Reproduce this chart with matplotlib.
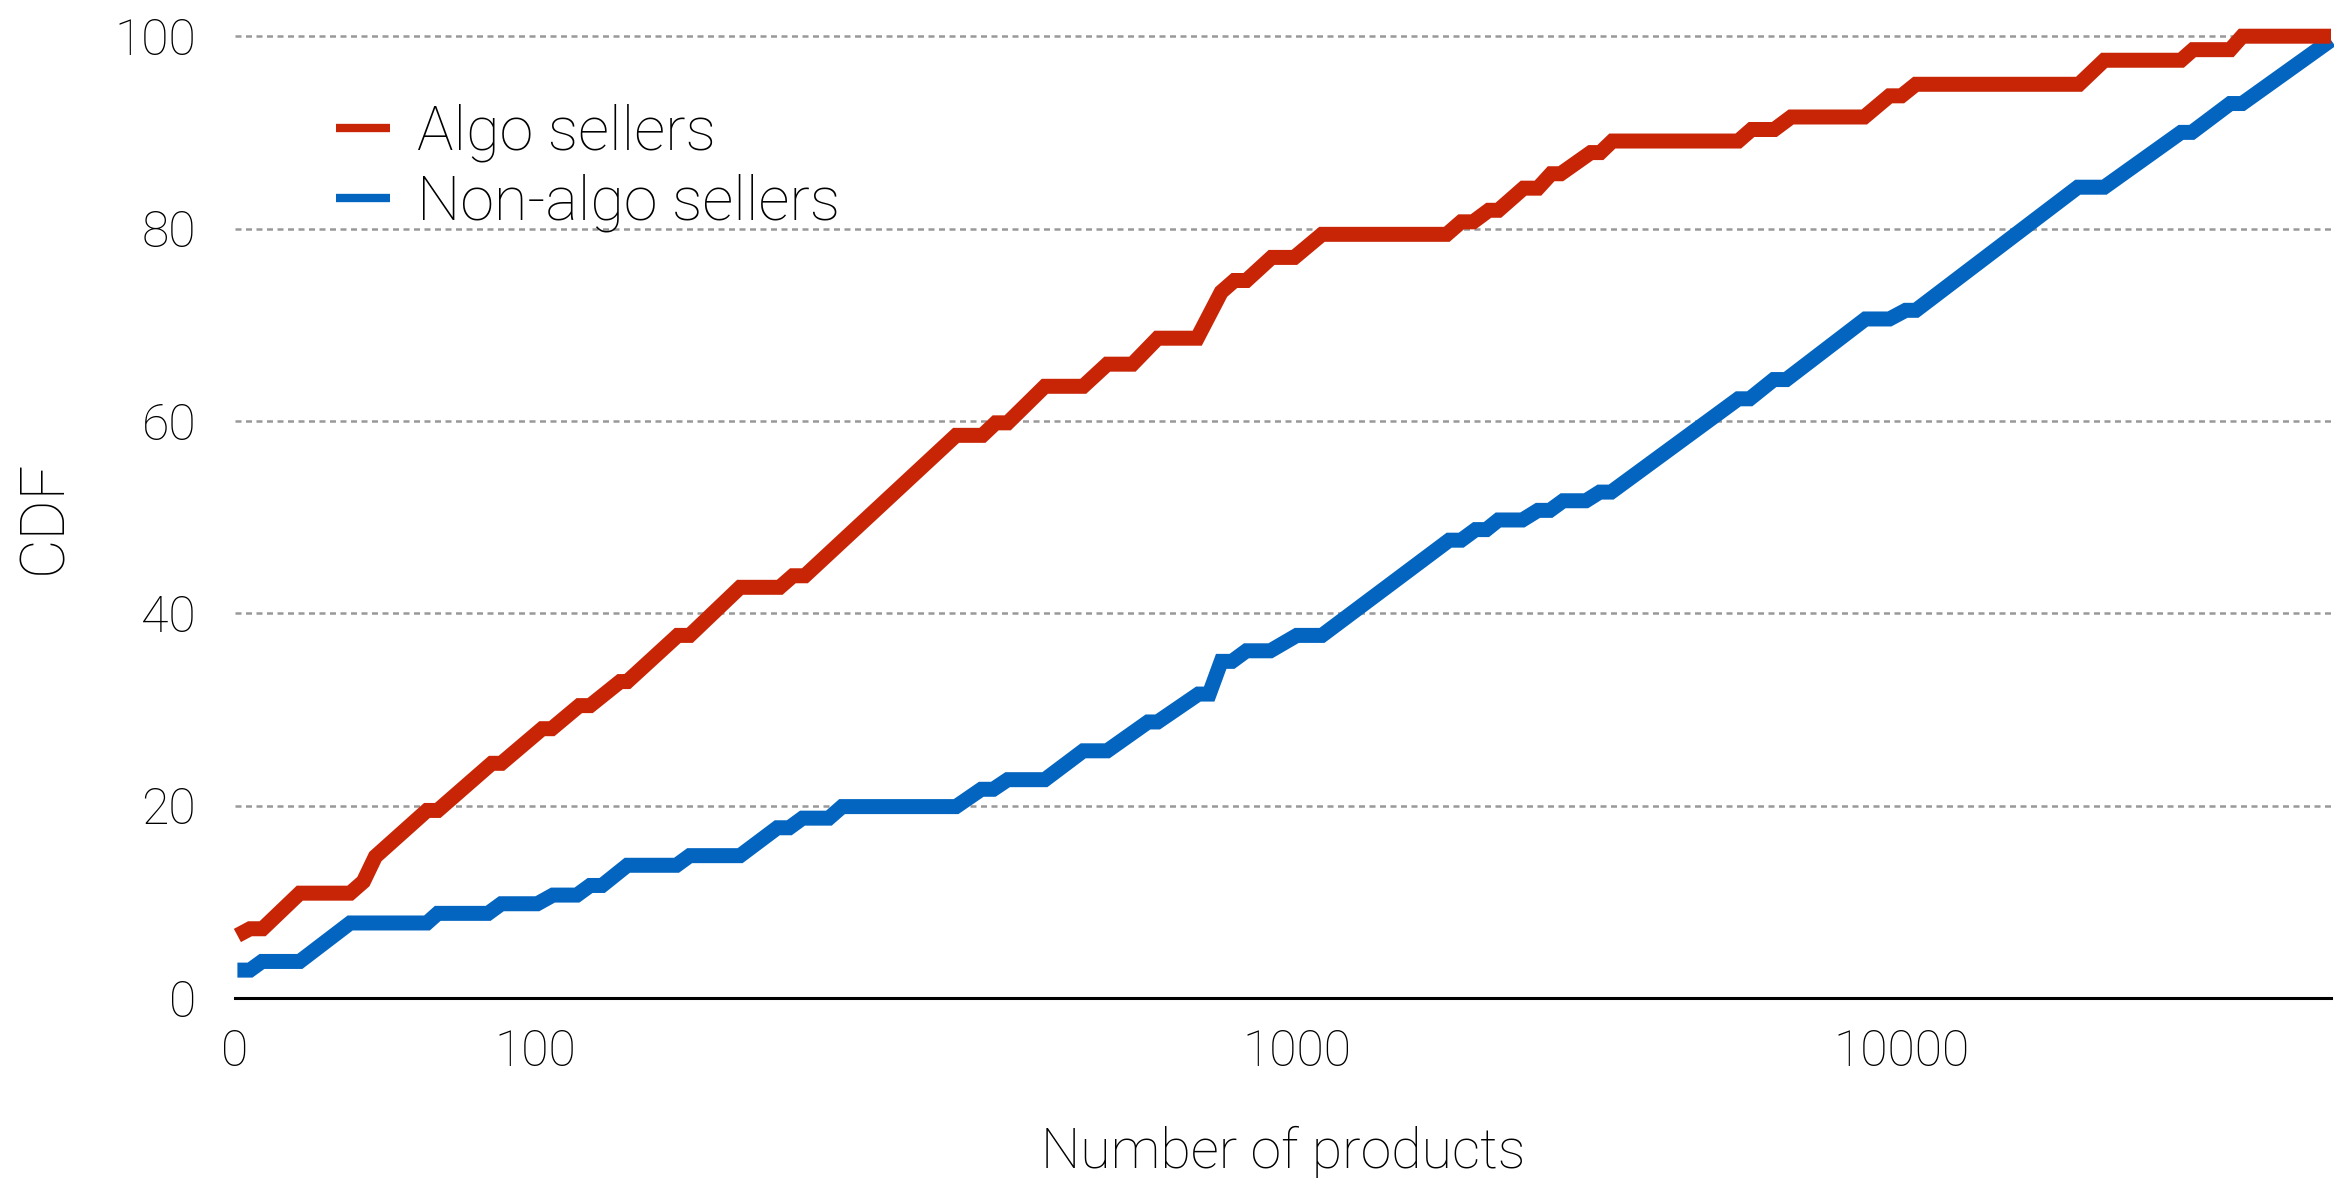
import matplotlib
matplotlib.use("Agg")
import matplotlib.pyplot as plt
from matplotlib.lines import Line2D

plt.rcParams['font.family'] = ['Roboto', 'DejaVu Sans']
plt.rcParams['font.weight'] = 'light'
plt.rcParams['axes.labelweight'] = 'light'

# x = position along the category axis (one unit ~ one category step)
algo_x = [0.2, 1.25, 2.3, 5.4, 9.6, 10.7, 11.7, 16.0, 16.9, 21.4, 22.2, 25.6, 26.4,
          28.7, 29.6, 32.1, 32.7, 36.9, 37.9, 42.1, 45.4, 46.5, 47.5, 60.1, 62.3,
          63.4, 64.4, 67.5, 70.7, 72.7, 74.8, 76.9, 80.2, 82.2, 83.3, 84.3, 86.4,
          88.3, 90.6, 101.0, 102.2, 103.2, 104.5, 105.3, 107.4, 108.6, 109.7, 110.5,
          113.0, 113.8, 114.8, 125.3, 126.4, 128.3, 129.7, 135.8, 137.9, 138.9,
          140.1, 153.7, 155.8, 162.2, 163.2, 166.3, 167.3, 174.7]
algo_cdf = [6.5, 7.2, 7.2, 10.9, 10.9, 12.1, 14.7, 19.5, 19.5, 24.4, 24.4, 28.0, 28.0,
            30.4, 30.4, 32.9, 32.9, 37.7, 37.7, 42.7, 42.7, 43.9, 43.9, 58.5, 58.5,
            59.8, 59.8, 63.6, 63.6, 65.9, 65.9, 68.6, 68.6, 73.4, 74.6, 74.6, 77.0,
            77.0, 79.4, 79.4, 80.7, 80.7, 81.9, 81.9, 84.2, 84.2, 85.7, 85.7,
            87.9, 87.9, 89.1, 89.1, 90.3, 90.3, 91.6, 91.6, 93.8, 93.8,
            95.0, 95.0, 97.5, 97.5, 98.6, 98.6, 100.0, 100.0]

nonalgo_x = [0.2, 1.25, 2.25, 5.4, 9.6, 16.0, 16.9, 21.1, 22.2, 25.2, 26.5, 28.5,
             29.6, 30.6, 32.7, 36.8, 37.9, 42.1, 45.2, 46.2, 47.3, 49.5, 50.6, 60.1,
             62.2, 63.2, 64.4, 67.5, 70.7, 72.7, 76.1, 76.9, 80.3, 81.2, 82.2, 83.1,
             84.3, 86.3, 88.5, 90.6, 101.2, 102.2, 103.4, 104.3, 105.3, 107.3, 108.6,
             109.6, 110.7, 112.6, 113.75, 114.7, 125.3, 126.25, 128.25, 129.3, 135.9,
             137.9, 139.25, 140.1, 153.6, 155.8, 162.2, 163.1, 166.3, 167.3, 174.7]
nonalgo_cdf = [2.9, 2.9, 3.8, 3.8, 7.8, 7.8, 8.8, 8.8, 9.8, 9.8, 10.7, 10.7,
               11.7, 11.7, 13.8, 13.8, 14.8, 14.8, 17.7, 17.7, 18.7, 18.7, 19.9, 19.9,
               21.7, 21.7, 22.7, 22.7, 25.7, 25.7, 28.7, 28.7, 31.6, 31.6, 35.0, 35.0,
               36.1, 36.1, 37.7, 37.7, 47.6, 47.6, 48.7, 48.7, 49.7, 49.7, 50.7,
               50.7, 51.7, 51.7, 52.6, 52.6, 62.3, 62.3, 64.3, 64.3, 70.6,
               70.6, 71.5, 71.5, 84.3, 84.3, 90.0, 90.0, 93.0, 93.0, 99.6]

xtick_pos = [0, 25.0, 88.5, 138.9]
xtick_labels = ['0', '100', '1000', '10000']
yticks = [0, 20, 40, 60, 80, 100]

RED = '#C82506'
BLUE = '#0365C0'

fig = plt.figure(figsize=(23.34, 11.78), dpi=100)
ax = fig.add_axes([235 / 2334, 1 - 998 / 1178, 2096 / 2334, (998 - 36.2) / 1178])

line_kw = dict(linewidth=10.8, solid_joinstyle='miter', solid_capstyle='butt',
               clip_on=False, zorder=3)
ax.plot(nonalgo_x, nonalgo_cdf, color=BLUE, **line_kw)
ax.plot(algo_x, algo_cdf, color=RED, **line_kw)

ax.set_xlim(0, 174.7)
ax.set_ylim(0, 100)

# dotted horizontal grid
for y in yticks[1:]:
    ax.axhline(y, color='#999999', linewidth=1.8, dashes=(2.4, 1.8), zorder=1,
               clip_on=False)

for s in ['top', 'right', 'left']:
    ax.spines[s].set_visible(False)
ax.spines['bottom'].set_linewidth(2.2)
ax.spines['bottom'].set_color('black')

ax.set_yticks(yticks)
ax.set_yticklabels([str(v) for v in yticks])
ax.set_xticks(xtick_pos)
ax.set_xticklabels(xtick_labels)
ax.tick_params(axis='y', length=0, pad=28, labelsize=36)
ax.tick_params(axis='x', length=0, pad=22, labelsize=36)

ax.set_xlabel('Number of products', fontsize=40, labelpad=36)
ax.set_ylabel('CDF', fontsize=44)
ax.yaxis.set_label_coords(-0.077, 0.5)

handles = [Line2D([], [], color=RED, linewidth=6, solid_capstyle='butt'),
           Line2D([], [], color=BLUE, linewidth=6, solid_capstyle='butt')]
fig.legend(handles, ['Algo sellers', 'Non-algo sellers'], loc='upper left',
           bbox_to_anchor=(336 / 2334, 1 - 103 / 1178), frameon=False, fontsize=44,
           handlelength=0.88, handletextpad=0.44, labelspacing=0.2,
           borderpad=0, borderaxespad=0)

fig.savefig('out.png', dpi=100)
